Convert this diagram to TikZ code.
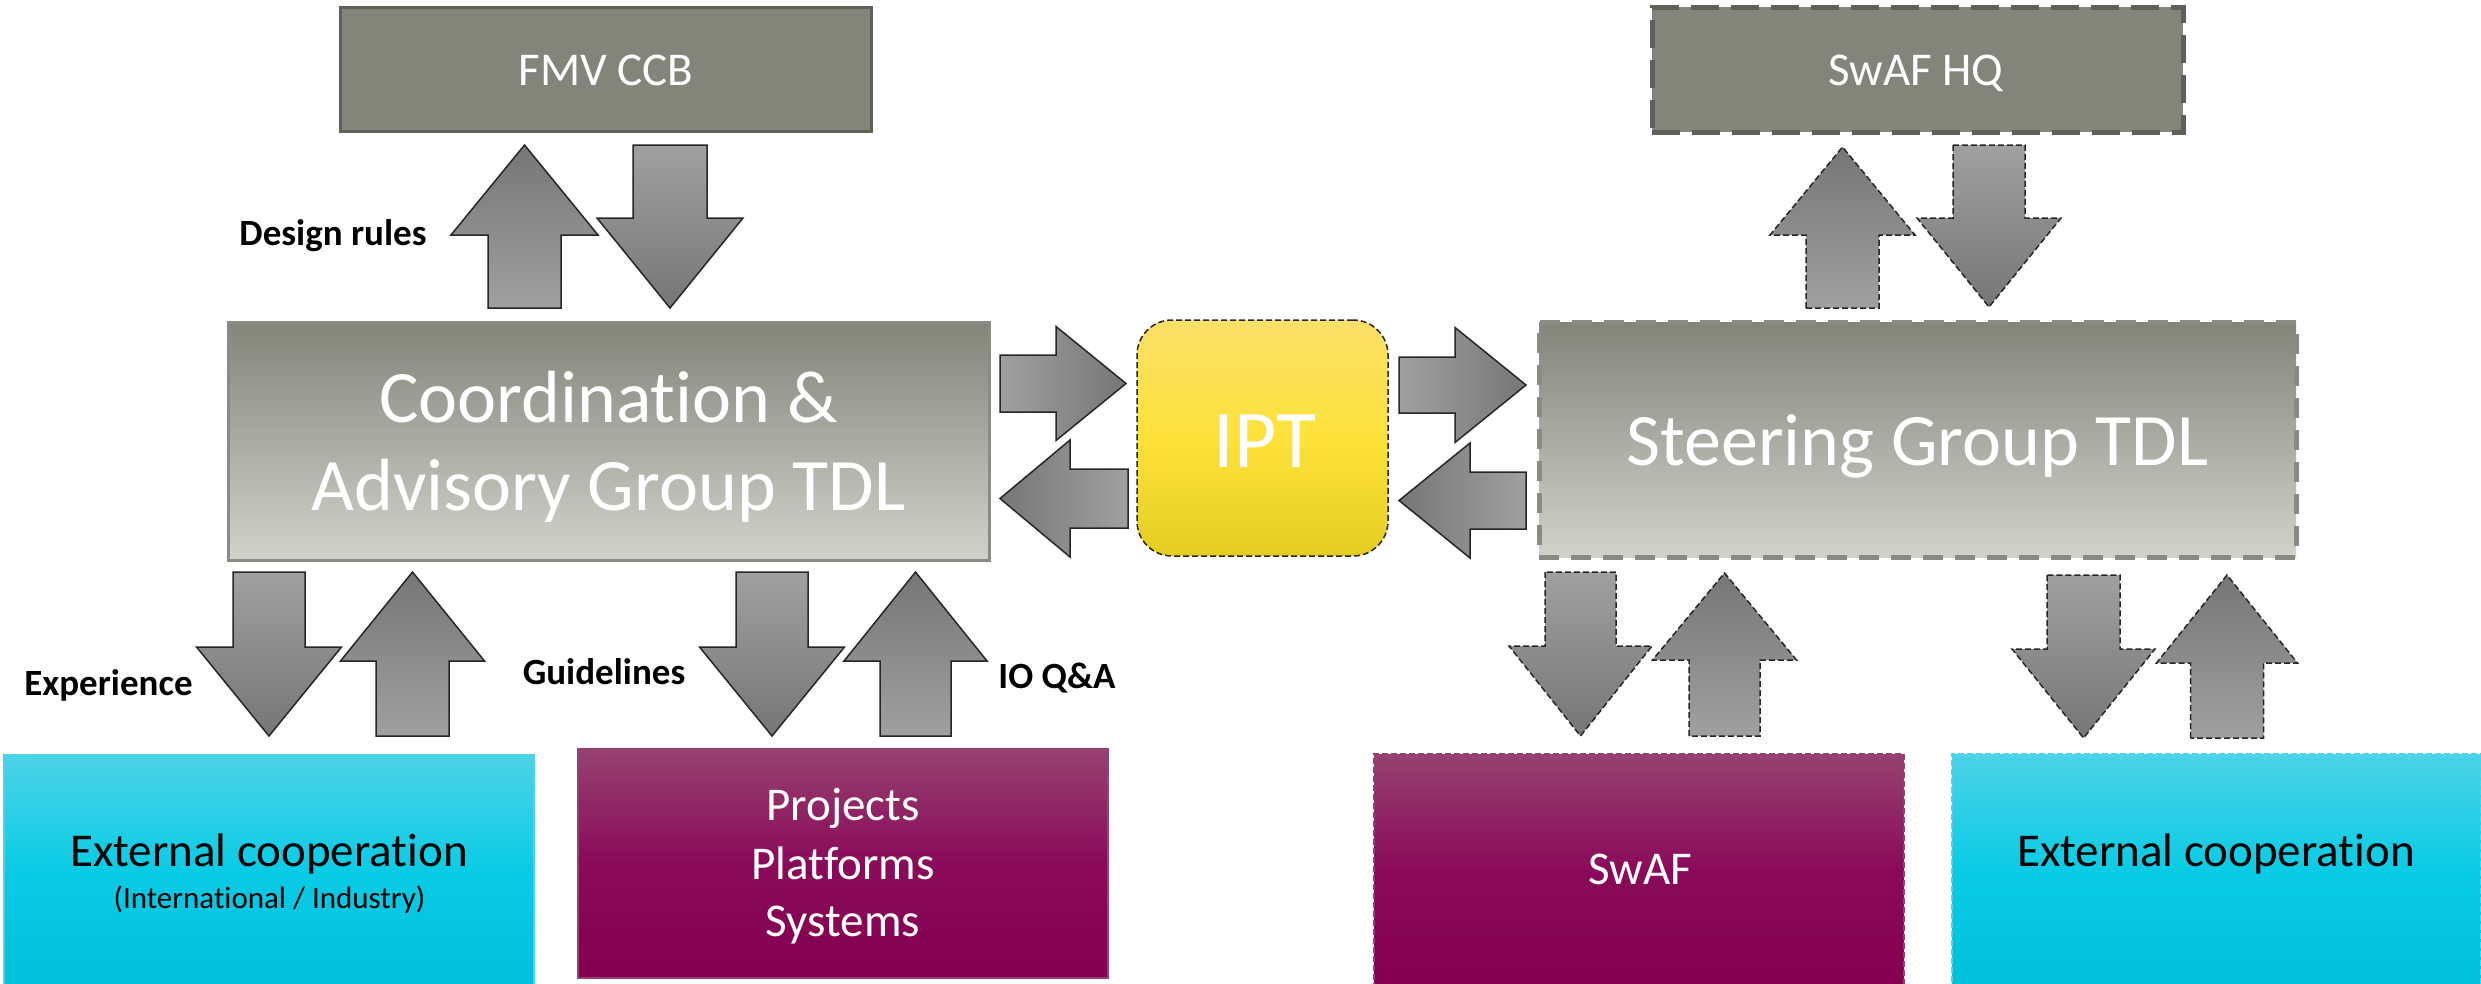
\documentclass[tikz,border=0pt]{standalone}
\usepackage{fontspec}
\setmainfont{Carlito}[Ligatures=NoCommon]
\definecolor{boxgray}{HTML}{83847A}
\definecolor{boxgrayL}{HTML}{D1D2CA}
\definecolor{bordgray}{HTML}{5F6058}
\definecolor{bordgrayL}{HTML}{8A8B81}
\definecolor{arrL}{HTML}{A0A0A0}
\definecolor{arrD}{HTML}{767676}
\definecolor{cyanT}{HTML}{4DD3E7}
\definecolor{cyanM}{HTML}{0ACBE5}
\definecolor{cyanB}{HTML}{00C0DC}
\definecolor{magT}{HTML}{964270}
\definecolor{magM}{HTML}{8A0A5A}
\definecolor{magB}{HTML}{850050}
\definecolor{ylT}{HTML}{FBE06A}
\definecolor{ylM}{HTML}{FEE23A}
\definecolor{ylB}{HTML}{E4CD22}
\newcommand\ttlfont{\fontsize{74}{89}\selectfont}
\newcommand\iptfont{\fontsize{82}{98}\selectfont}
\newcommand\midfont{\fontsize{47}{58}\selectfont}
\newcommand\smfont{\fontsize{31}{38}\selectfont}
\newcommand\lblfont{\fontsize{37}{44}\selectfont\bfseries}
% vertical block arrow: style, cx, ytail, yhead, ytip, half shaft, half head
\newcommand\vblock[7]{%
  \path[#1] (#2-#6,#3) -- (#2-#6,#4) -- (#2-#7,#4) -- (#2,#5) -- (#2+#7,#4) -- (#2+#6,#4) -- (#2+#6,#3) -- cycle;}
% horizontal block arrow: style, cy, xtail, xhead, xtip, half shaft, half head
\newcommand\hblock[7]{%
  \path[#1] (#3,#2-#6) -- (#4,#2-#6) -- (#4,#2-#7) -- (#5,#2) -- (#4,#2+#7) -- (#4,#2+#6) -- (#3,#2+#6) -- cycle;}
\tikzset{
  arrsolid/.style={draw=black!85, line width=1.5pt},
  arrdash/.style={draw=black!85, line width=1.5pt, dash pattern=on 6pt off 3pt},
  shup/.style={top color=arrD, bottom color=arrL},
  shdown/.style={top color=arrL, bottom color=arrD},
  shright/.style={left color=arrL, right color=arrD},
  shleft/.style={left color=arrD, right color=arrL},
  blk/.style={rectangle, inner sep=0pt, outer sep=0pt},
  wtxt/.style={text=white, anchor=base, inner sep=0pt},
  btxt/.style={text=black, anchor=base, inner sep=0pt},
}
\begin{document}
\begin{tikzpicture}[x=1pt,y=-1pt]
\useasboundingbox (0,0) rectangle (2481,983);
% ---- boxes ----
\node[blk, fill=boxgray, draw=bordgray, line width=3pt, minimum width=531pt, minimum height=124pt] (fmv) at (605.5,69) {};
\node[blk, fill=boxgray, draw=bordgray, line width=5pt, dash pattern=on 28pt off 12pt, minimum width=531pt, minimum height=125pt] (hq) at (1917.5,69.5) {};
\node[blk, top color=boxgray, bottom color=boxgrayL, draw=bordgrayL, line width=3pt, minimum width=761pt, minimum height=238pt] (cag) at (608.5,441) {};
\node[blk, top color=boxgray, bottom color=boxgrayL, draw=bordgrayL, line width=5pt, dash pattern=on 20pt off 12pt, minimum width=757pt, minimum height=235pt] (sg) at (1917.5,439.5) {};
\node[blk, top color=ylT, bottom color=ylB, middle color=ylM, draw=black!85, line width=1.5pt, dash pattern=on 6pt off 3pt, rounded corners=35pt, minimum width=251pt, minimum height=236pt] (ipt) at (1262.5,438) {};
\node[blk, top color=cyanT, bottom color=cyanB, middle color=cyanM, draw=cyanT, line width=1.5pt, minimum width=530pt, minimum height=232pt] (ext1) at (269,871) {};
\node[blk, top color=magT, bottom color=magB, middle color=magM, draw=magT, line width=1.5pt, minimum width=530pt, minimum height=229pt] (proj) at (843,863.5) {};
\node[blk, top color=magT, bottom color=magB, middle color=magM, draw=magT, line width=1.5pt, dash pattern=on 6pt off 3pt, minimum width=530pt, minimum height=232pt] (swaf) at (1639,870) {};
\node[blk, top color=cyanT, bottom color=cyanB, middle color=cyanM, draw=cyanT, line width=1.5pt, dash pattern=on 6pt off 3pt, minimum width=529pt, minimum height=232pt] (ext2) at (2216.5,870) {};
% ---- texts ----
\node[wtxt, font=\midfont] (fmvt) at (606,85) {FMV CCB};
\node[wtxt, font=\midfont] (hqt) at (1916,85) {SwAF HQ};
\node[wtxt, font=\ttlfont] (cagt1) at (608.5,422) {Coordination \&};
\node[wtxt, font=\ttlfont] (cagt2) at (608.5,510) {Advisory Group TDL};
\node[wtxt, font=\iptfont] (iptt) at (1265,467) {IPT};
\node[wtxt, font=\ttlfont] (sgt) at (1917.5,465) {Steering Group TDL};
\node[btxt, font=\midfont] (ext1t1) at (269,866) {External cooperation};
\node[btxt, font=\smfont] (ext1t2) at (269.5,908) {(International / Industry)};
\node[wtxt, font=\midfont] (projt1) at (843,820) {Projects};
\node[wtxt, font=\midfont] (projt2) at (843,879) {Platforms};
\node[wtxt, font=\midfont] (projt3) at (843,936) {Systems};
\node[wtxt, font=\midfont] (swaft) at (1640.5,884) {SwAF};
\node[btxt, font=\midfont] (ext2t) at (2216,866) {External cooperation};
\node[btxt, font=\lblfont] (lbl1) at (333,245) {Design rules};
\node[btxt, font=\lblfont] (lbl2) at (108.5,695) {Experience};
\node[btxt, font=\lblfont] (lbl3) at (604,684) {Guidelines};
\node[btxt, font=\lblfont] (lbl4) at (1057,688) {IO Q\&A};
% ---- block arrows ----
% FMV CCB <-> Coordination
\vblock{arrsolid,shup}{524.5}{308}{235}{145}{36.5}{73.5}
\vblock{arrsolid,shdown}{670}{145}{218}{308}{37}{73}
% SwAF HQ <-> Steering
\vblock{arrdash,shup}{1842.5}{308}{235}{147}{36.5}{72.5}
\vblock{arrdash,shdown}{1989}{145}{218}{307}{36}{72}
% Coordination <-> External cooperation
\vblock{arrsolid,shdown}{269}{572}{647}{736}{36}{72.5}
\vblock{arrsolid,shup}{412.5}{736}{661}{572}{36.5}{72}
% Coordination <-> Projects
\vblock{arrsolid,shdown}{772}{572}{647}{736}{36}{72.5}
\vblock{arrsolid,shup}{915.5}{736}{661}{572}{35.5}{71.5}
% Steering <-> SwAF
\vblock{arrdash,shdown}{1580.5}{572}{646}{736}{35.5}{71.5}
\vblock{arrdash,shup}{1724.5}{736}{660}{573}{35.5}{72}
% Steering <-> External cooperation
\vblock{arrdash,shdown}{2083.5}{575}{649}{738}{36.5}{71.5}
\vblock{arrdash,shup}{2227}{738}{663}{575}{36.5}{70.5}
% Coordination <-> IPT
\hblock{arrsolid,shright}{383.5}{1000}{1056}{1126}{28.5}{57}
\hblock{arrsolid,shleft}{498.5}{1128}{1070}{1000}{29.5}{58.5}
% IPT <-> Steering
\hblock{arrsolid,shright}{385}{1399}{1455}{1526}{28}{57.5}
\hblock{arrsolid,shleft}{500.5}{1526}{1470}{1399}{28.5}{57.5}
\end{tikzpicture}
\end{document}
